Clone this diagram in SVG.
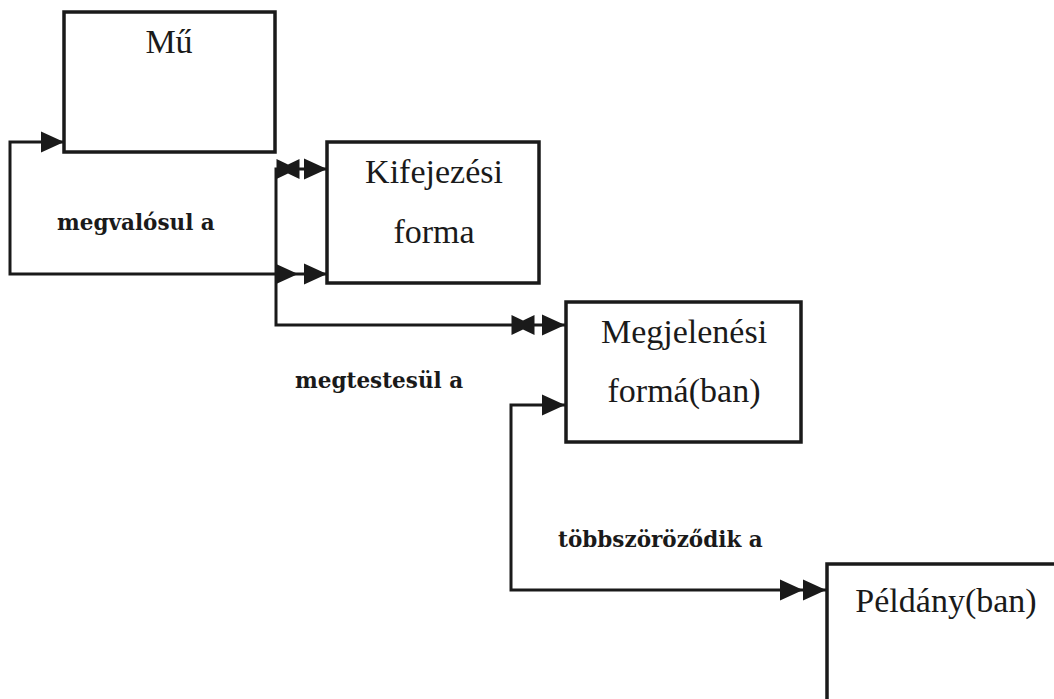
<svg xmlns="http://www.w3.org/2000/svg" xmlns:xlink="http://www.w3.org/1999/xlink" width="1054" height="699" viewBox="0 0 1054 699">
<style>
.box{fill:#fff;stroke:#1a1a1a;stroke-width:3.5}
.t{font-family:"Liberation Serif","Times New Roman",serif;font-size:34px;fill:#1a1a1a;text-anchor:middle}
.lbl{font-family:"DejaVu Serif","Liberation Serif",serif;font-weight:bold;font-size:21.5px;fill:#1a1a1a}
.ln{fill:none;stroke:#1a1a1a;stroke-width:3}
.hd{fill:#1a1a1a}
</style>
<defs>
<path id="arr" class="hd" d="M-23,-10.5 L0,0 L-23,10.5 Z"/>
<path id="bow" class="hd" d="M-11.5,-10 L0,-4.5 L11.5,-10 L11.5,10 L0,4.5 L-11.5,10 Z"/>
</defs>
<rect width="1054" height="699" fill="#fff"/>
<g id="connectors">
<path class="ln" d="M64,142 H10 V274 H327"/>
<path class="ln" d="M327,169 H276 V325 H566"/>
<path class="ln" d="M566,405 H511 V590 H827"/>
<use xlink:href="#arr" x="64" y="142"/>
<use xlink:href="#bow" x="288" y="169"/>
<use xlink:href="#arr" x="327" y="169"/>
<use xlink:href="#arr" x="298" y="274"/>
<use xlink:href="#arr" x="327" y="274"/>
<use xlink:href="#bow" x="523" y="325"/>
<use xlink:href="#arr" x="565" y="325"/>
<use xlink:href="#arr" x="565" y="405"/>
<use xlink:href="#arr" x="803" y="590"/>
<use xlink:href="#arr" x="826" y="590"/>
<text class="lbl" x="57" y="230">megvalósul a</text>
<text class="lbl" x="295" y="388">megtestesül a</text>
<text class="lbl" x="558" y="547">többszöröződik a</text>
</g>
<g id="mu">
<rect class="box" x="64" y="12" width="211" height="140"/>
<text class="t" x="169" y="53">Mű</text>
</g>
<g id="kifejezesi">
<rect class="box" x="327" y="142" width="212" height="141"/>
<text class="t" x="434" y="183">Kifejezési</text>
<text class="t" x="434" y="243">forma</text>
</g>
<g id="megjelenesi">
<rect class="box" x="566" y="302" width="235" height="140"/>
<text class="t" x="684" y="343">Megjelenési</text>
<text class="t" x="684" y="402">formá(ban)</text>
</g>
<g id="peldany">
<rect class="box" x="827" y="564" width="240" height="150"/>
<text class="t" x="946" y="612">Példány(ban)</text>
</g>
</svg>
